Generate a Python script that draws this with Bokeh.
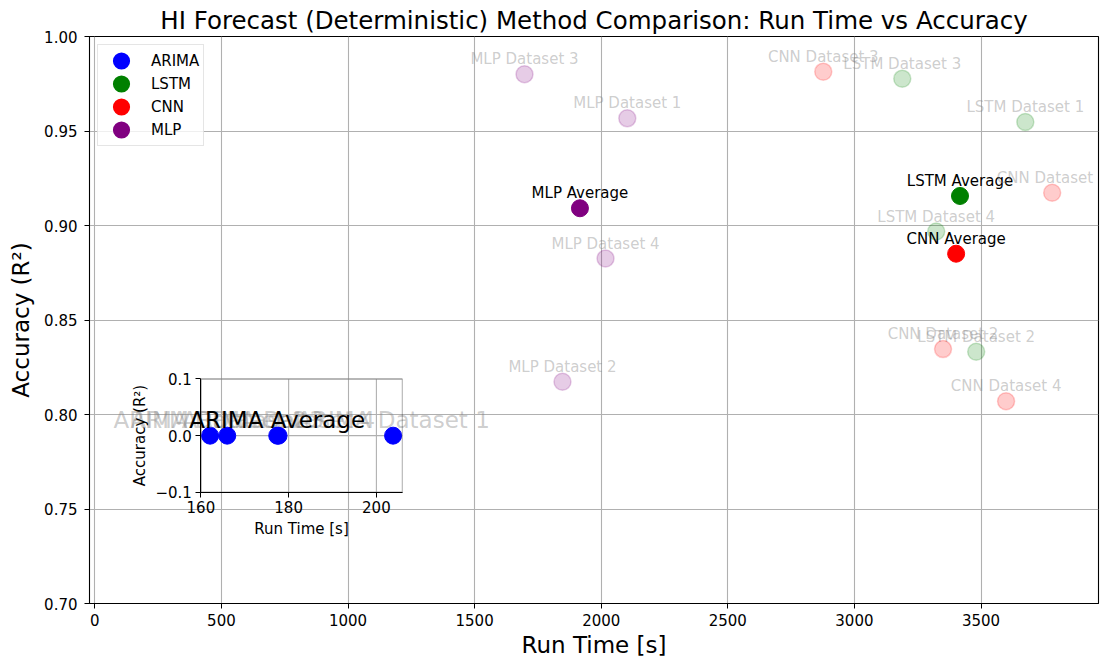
import numpy as np
from bokeh.plotting import figure
from bokeh.models import (Range1d, LinearAxis, FixedTicker, BoxAnnotation,
                          Legend, LegendItem, ColumnDataSource)
from bokeh.core.properties import value
from bokeh.embed import file_html
from bokeh.resources import INLINE

FONT = "DejaVu Sans"

# ---- data: run time [s] and accuracy (R^2) per dataset ----
methods = ["ARIMA", "LSTM", "CNN", "MLP"]
colors = ["#0000ff", "#008000", "#ff0000", "#800080"]

arima_time = [203.8, 162.1, 166.0, 177.7]
arima_acc = [0.0, 0.0, 0.0, 0.0]
lstm_time = [3675, 3481, 3189, 3323]
lstm_acc = [0.9548, 0.8332, 0.9777, 0.8968]
cnn_time = [3781, 3350, 2877, 3599]
cnn_acc = [0.9173, 0.8346, 0.9814, 0.8070]
mlp_time = [2103, 1847, 1697, 2017]
mlp_acc = [0.9567, 0.8173, 0.9800, 0.8825]

dataset_names = ["Dataset 1", "Dataset 2", "Dataset 3", "Dataset 4"]

main_xticks = [0, 500, 1000, 1500, 2000, 2500, 3000, 3500]
main_yticks = [0.70, 0.75, 0.80, 0.85, 0.90, 0.95, 1.00]
inset_xticks = [160, 180, 200]
inset_yticks = [-0.1, 0.0, 0.1]

# ---- main figure ----
p = figure(width=1111, height=662, output_backend="svg", toolbar_location=None,
           x_range=Range1d(-21, 3964), y_range=Range1d(0.70, 1.00),
           min_border_left=89, min_border_right=13, min_border_top=36, min_border_bottom=59)
p.background_fill_color = "white"
p.border_fill_color = "white"
p.outline_line_color = "black"
p.outline_line_width = 1.1

p.title.text = "HI Forecast (Deterministic) Method Comparison: Run Time vs Accuracy"
p.title.align = "center"
p.title.text_font = FONT
p.title.text_font_size = "24.5px"
p.title.text_font_style = "normal"
p.title.text_color = "black"
p.title.standoff = 4


def style_axis(ax, label_size):
    ax.axis_label_text_font = FONT
    ax.axis_label_text_font_size = label_size
    ax.axis_label_text_font_style = "normal"
    ax.axis_label_text_color = "black"
    ax.major_label_text_font = FONT
    ax.major_label_text_font_size = "15px"
    ax.major_label_text_color = "black"
    ax.major_tick_out = 5
    ax.major_tick_in = 0
    ax.minor_tick_line_color = None
    ax.axis_line_color = "black"
    ax.major_tick_line_color = "black"


for ax in (p.xaxis[0], p.yaxis[0]):
    style_axis(ax, "23px")

p.xaxis[0].axis_label = "Run Time [s]"
p.xaxis[0].ticker = FixedTicker(ticks=main_xticks)
p.xaxis[0].major_label_standoff = 5
p.xaxis[0].axis_label_standoff = 3
p.yaxis[0].axis_label = "Accuracy (R²)"
p.yaxis[0].ticker = FixedTicker(ticks=main_yticks)
p.yaxis[0].major_label_overrides = {t: f"{t:.2f}" for t in main_yticks}
p.yaxis[0].major_label_standoff = 7
p.yaxis[0].axis_label_standoff = 7

p.grid.grid_line_color = "#b0b0b0"
p.grid.grid_line_width = 1.1
p.xgrid.ticker = FixedTicker(ticks=main_xticks)
p.ygrid.ticker = FixedTicker(ticks=main_yticks)


def label_cds(times, accs, names):
    return ColumnDataSource(dict(x=list(times), y=list(accs), t=list(names)))


legend_proxies = {}

# deep-learning methods in the main panel
for name, col, times, accs in [("LSTM", colors[1], lstm_time, lstm_acc),
                               ("CNN", colors[2], cnn_time, cnn_acc),
                               ("MLP", colors[3], mlp_time, mlp_acc)]:
    ds = label_cds(times, accs, [f"{name} {d}" for d in dataset_names])
    p.scatter("x", "y", source=ds, size=17, fill_color=col, fill_alpha=0.2,
              line_color=col, line_alpha=0.2, line_width=1.5)
    p.text("x", "y", text="t", source=ds, text_align="center", text_baseline="alphabetic",
           y_offset=-15, text_font=value(FONT), text_font_size="15px",
           text_color="gray", text_alpha=0.4)
    avg = label_cds([np.mean(times)], [np.mean(accs)], [f"{name} Average"])
    p.scatter("x", "y", source=avg, size=17, fill_color=col, line_color=col)
    p.text("x", "y", text="t", source=avg, text_align="center", text_baseline="alphabetic",
           y_offset=-15, text_font=value(FONT), text_font_size="15px", text_color="black")
    legend_proxies[name] = p.scatter("x", "y", source=avg, size=9, fill_color=col,
                                     line_color=col, line_width=8, visible=False)

# ---- ARIMA inset drawn on its own ranges ----
inset_frac = (0.1104, 0.196, 0.310, 0.396)      # left, bottom, right, top (fraction of frame)
ix_lo, ix_hi = 160.0, 205.9
iy_lo, iy_hi = -0.1, 0.1
ux = (ix_hi - ix_lo) / (inset_frac[2] - inset_frac[0])
uy = (iy_hi - iy_lo) / (inset_frac[3] - inset_frac[1])
x0 = ix_lo - inset_frac[0] * ux
y0 = iy_lo - inset_frac[1] * uy
p.extra_x_ranges = {"ix": Range1d(x0, x0 + ux)}
p.extra_y_ranges = {"iy": Range1d(y0, y0 + uy)}
R = dict(x_range_name="ix", y_range_name="iy")

# inset grid
p.segment(x0=inset_xticks, y0=[iy_lo] * len(inset_xticks), x1=inset_xticks,
          y1=[iy_hi] * len(inset_xticks), line_color="#b0b0b0", line_width=1.1, **R)
p.segment(x0=[ix_lo] * len(inset_yticks), y0=inset_yticks, x1=[ix_hi] * len(inset_yticks),
          y1=inset_yticks, line_color="#b0b0b0", line_width=1.1, **R)
p.add_layout(BoxAnnotation(left=ix_lo, right=ix_hi, bottom=iy_lo, top=iy_hi,
                           fill_alpha=0, line_color="black", line_width=1.1, **R))

ar = label_cds(arima_time, arima_acc, [f"ARIMA {d}" for d in dataset_names])
p.scatter("x", "y", source=ar, size=17, fill_color=colors[0], line_color=colors[0], **R)
p.text("x", "y", text="t", source=ar, text_align="center", text_baseline="alphabetic",
       y_offset=-16, text_font=value(FONT), text_font_size="23px",
       text_color="gray", text_alpha=0.4, **R)
ar_avg = label_cds([np.mean(arima_time)], [np.mean(arima_acc)], ["ARIMA Average"])
p.scatter("x", "y", source=ar_avg, size=17, fill_color=colors[0], line_color=colors[0], **R)
p.text("x", "y", text="t", source=ar_avg, text_align="center", text_baseline="alphabetic",
       y_offset=-16, text_font=value(FONT), text_font_size="23px", text_color="black", **R)
legend_proxies["ARIMA"] = p.scatter("x", "y", source=ar_avg, size=9, fill_color=colors[0],
                                    line_color=colors[0], line_width=8, visible=False, **R)

ixax = LinearAxis(fixed_location=iy_lo, bounds=(ix_lo, ix_hi),
                  ticker=FixedTicker(ticks=inset_xticks), axis_label="Run Time [s]", **R)
iyax = LinearAxis(fixed_location=ix_lo, bounds=(iy_lo, iy_hi),
                  ticker=FixedTicker(ticks=inset_yticks), axis_label="Accuracy (R²)", **R)
iyax.major_label_overrides = {-0.1: "\u22120.1", 0.0: "0.0", 0.1: "0.1"}
for ax in (ixax, iyax):
    style_axis(ax, "15px")
    ax.major_label_standoff = 4
    ax.axis_label_standoff = 3
p.add_layout(ixax, "below")
p.add_layout(iyax, "left")

legend = Legend(items=[LegendItem(label=m, renderers=[legend_proxies[m]]) for m in methods],
                location="top_left")
legend.label_text_font = FONT
legend.label_text_font_size = "15px"
legend.label_text_color = "black"
legend.glyph_width = 38
legend.glyph_height = 23
legend.spacing = 0
legend.padding = 4
legend.margin = 8
legend.label_standoff = 11
legend.border_line_color = "#cccccc"
legend.border_line_width = 1
legend.background_fill_alpha = 0.8
p.add_layout(legend)

open("out.html", "w").write(file_html(p, INLINE))
